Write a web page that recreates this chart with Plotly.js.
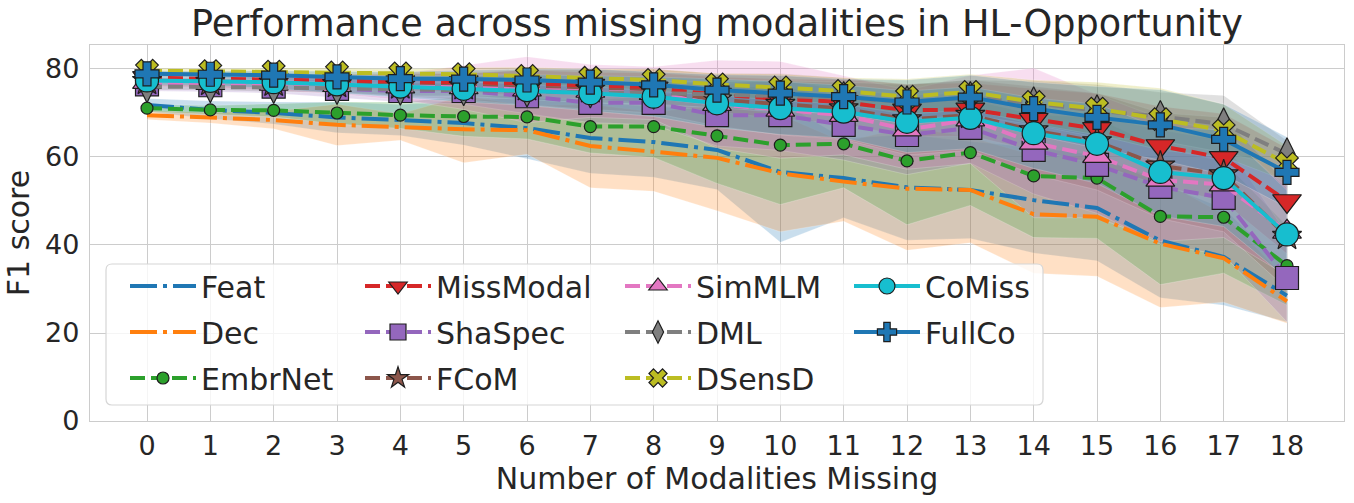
<!DOCTYPE html>
<html><head><meta charset="utf-8">
<script src="https://cdn.plot.ly/plotly-3.0.1.min.js"></script>
<style>html,body{margin:0;padding:0;background:#fff}#chart{width:1354px;height:503px}</style>
</head><body><div id="chart"></div>
<script>
// ---- data ----
const missing = [0,1,2,3,4,5,6,7,8,9,10,11,12,13,14,15,16,17,18];
const xTickLabels = ["0","1","2","3","4","5","6","7","8","9","10","11","12","13","14","15","16","17","18"];
const yTickVals = [0,20,40,60,80];

const featMean     = [71.8,70.7,70.0,69.0,68.4,67.7,66.6,64.3,63.4,61.6,56.6,55.2,53.1,52.5,50.2,48.4,41.0,37.3,28.5];
const featStd      = [1.5,2.0,2.5,3.5,3.5,5.0,7.0,8.0,8.0,9.0,16.0,9.0,12.0,11.0,12.0,12.0,13.0,11.0,6.0];
const decMean      = [69.5,68.9,68.4,67.3,66.8,66.3,66.1,62.5,61.2,59.8,56.3,54.4,52.8,52.5,47.0,46.4,40.3,37.0,27.2];
const decStd       = [1.0,1.2,2.0,4.7,3.0,7.6,5.5,9.5,9.0,12.0,13.3,9.0,14.0,12.0,13.4,13.5,14.5,10.0,5.0];
const embrMean     = [71.1,70.7,70.6,70.0,69.5,69.2,69.1,66.9,66.9,64.8,62.7,63.0,59.1,61.0,55.7,55.2,46.5,46.3,35.3];
const embrStd      = [0.8,1.0,1.5,2.5,3.0,4.5,5.0,6.0,7.0,10.8,13.5,10.0,14.5,12.0,14.0,13.7,15.5,12.7,9.0];
const missModalMean= [78.0,77.8,77.6,77.3,77.0,77.0,76.7,76.2,75.6,74.2,73.2,72.5,70.6,70.8,68.5,66.4,62.5,59.8,50.0];
const missModalStd = [1.0,1.0,1.0,1.5,2.0,2.0,3.0,3.0,3.5,4.0,4.5,5.0,6.0,6.0,7.0,8.0,9.0,10.0,12.0];
const shaSpecMean  = [76.5,76.3,76.0,75.5,75.0,75.0,73.8,72.3,72.3,69.5,69.5,67.3,65.0,66.6,61.6,58.2,53.2,50.7,32.5];
const shaSpecStd   = [1.5,1.5,1.5,2.0,2.5,3.0,4.0,4.5,5.0,7.0,8.0,8.0,9.0,8.0,10.0,11.0,13.0,13.0,10.0];
const fcomMean     = [77.2,77.0,76.8,76.5,76.2,76.0,75.8,75.3,75.0,73.0,72.0,71.0,68.5,69.5,66.0,63.5,58.0,56.0,42.0];
const fcomStd      = [1.0,1.0,1.5,2.0,2.5,3.0,4.0,4.5,5.0,6.0,7.0,7.0,8.0,8.0,10.0,11.0,12.0,13.0,12.0];
const simMean      = [77.0,76.8,76.6,76.3,76.0,75.8,75.3,75.0,74.5,72.0,70.7,69.5,66.2,68.5,63.2,60.2,54.8,53.7,43.0];
const simStd       = [1.0,1.0,1.5,2.0,3.0,5.0,7.5,6.0,6.0,10.0,11.0,9.0,9.0,10.0,17.0,14.0,14.0,12.0,10.0];
const dmlMean      = [76.0,76.0,75.8,75.6,75.4,75.3,75.0,74.8,74.5,74.2,73.8,73.5,72.5,73.5,72.3,70.5,69.2,67.5,60.7];
const dmlStd       = [0.8,0.8,1.0,1.0,1.5,1.5,2.0,2.5,2.5,3.0,3.5,3.5,4.0,4.0,5.0,6.0,5.5,6.5,3.0];
const dsensMean    = [79.6,79.5,79.4,79.2,79.0,78.8,78.4,78.0,77.5,76.5,75.8,75.0,73.7,74.8,72.5,71.0,68.6,66.0,58.5];
const dsensStd     = [0.6,0.6,0.8,1.0,1.0,1.5,2.0,2.0,2.5,2.5,3.0,3.0,4.0,4.0,5.0,6.0,7.0,6.0,4.0];
const comissMean   = [77.4,77.3,77.0,76.5,76.0,75.5,75.2,74.5,73.7,72.2,71.1,70.3,68.0,68.9,65.4,63.0,56.6,55.2,42.4];
const comissStd    = [1.0,1.0,1.5,2.0,2.5,3.0,3.5,4.0,4.5,5.5,6.0,6.0,7.0,7.0,8.0,9.0,10.0,11.0,10.0];
const fullcoMean   = [78.9,78.8,78.6,78.2,77.8,77.7,77.5,77.0,76.4,75.2,74.5,73.7,72.5,73.6,71.0,69.0,67.3,64.0,56.5];
const fullcoStd    = [0.7,0.7,1.0,1.2,1.5,2.0,2.5,3.0,3.0,3.5,4.0,4.0,5.0,5.0,6.0,7.0,8.0,8.0,8.0];

const methodNames = ["Feat","Dec","EmbrNet","MissModal","ShaSpec","FCoM","SimMLM","DML","DSensD","CoMiss","FullCo"];
const methodMeans = [featMean,decMean,embrMean,missModalMean,shaSpecMean,fcomMean,simMean,dmlMean,dsensMean,comissMean,fullcoMean];
const methodStds  = [featStd,decStd,embrStd,missModalStd,shaSpecStd,fcomStd,simStd,dmlStd,dsensStd,comissStd,fullcoStd];

// ---- styles ----
const colors = ["31,119,180","255,127,14","44,160,44","214,39,40","148,103,189","140,86,75","227,119,194","127,127,127","188,189,34","23,190,207","31,119,180"];
const dashDot = "27px,6px,4px,6px";
const dashed = "15px,6px";
const dashes = [dashDot,dashDot,dashed,dashed,dashed,dashed,dashed,dashed,dashed,"solid","solid"];
const symbols = [null,null,"circle","triangle-down","square","star","triangle-up","diamond-tall","x","circle","cross"];
const sizes = [0,0,12,25,23,22,25,23,20,23,20];
const legendOf = ["legend","legend","legend","legend2","legend2","legend2","legend3","legend3","legend3","legend4","legend4"];

// plot area in pixels
const L = 90, R = 1344, T = 45, B = 421;
const px2x = p => (p - L) / (R - L);
const px2y = p => (B - p) / (B - T);

const traces = [];
methodNames.forEach((name, i) => {
  const m = methodMeans[i], s = methodStds[i];
  const up = m.map((v, k) => v + s[k]);
  const lo = m.map((v, k) => v - s[k]);
  traces.push({
    x: missing.concat(missing.slice().reverse()),
    y: up.concat(lo.slice().reverse()),
    type: "scatter", mode: "lines", fill: "toself",
    fillcolor: "rgba(" + colors[i] + ",0.24)",
    line: {width: 0.6, color: "rgba(255,255,255,0.35)"},
    showlegend: false, hoverinfo: "skip", legend: legendOf[i], legendgroup: name
  });
});
methodNames.forEach((name, i) => {
  const t = {
    x: missing, y: methodMeans[i], name: name, type: "scatter",
    mode: symbols[i] ? "lines+markers" : "lines",
    line: {color: "rgb(" + colors[i] + ")", width: 4, dash: dashes[i]},
    legend: legendOf[i], legendgroup: name
  };
  if (symbols[i]) {
    t.marker = {symbol: symbols[i], size: sizes[i], color: "rgb(" + colors[i] + ")",
                line: {color: "#1e1e1e", width: 1.2}};
  }
  traces.push(t);
});

const font = "DejaVu Sans, sans-serif";
const txt = "#262626";
const legendFont = {family: font, size: 30, color: txt};
function legendAt(px, py) {
  return {x: px2x(px), y: px2y(py), xanchor: "left", yanchor: "top",
          bgcolor: "rgba(0,0,0,0)", borderwidth: 0, font: legendFont,
          itemwidth: 66, tracegroupgap: 4, traceorder: "grouped", itemclick: false};
}
const fx0 = px2x(106), fx1 = px2x(1043), fy0 = px2y(405), fy1 = px2y(264);
const rx = 6 / (R - L), ry = 6 / (B - T);
const framePath = `M${fx0+rx},${fy0} L${fx1-rx},${fy0} Q${fx1},${fy0} ${fx1},${fy0+ry} L${fx1},${fy1-ry} Q${fx1},${fy1} ${fx1-rx},${fy1} L${fx0+rx},${fy1} Q${fx0},${fy1} ${fx0},${fy1-ry} L${fx0},${fy0+ry} Q${fx0},${fy0} ${fx0+rx},${fy0} Z`;

const layout = {
  width: 1354, height: 503,
  margin: {l: L, r: 1354 - R, t: T, b: 503 - B, pad: 0},
  paper_bgcolor: "#ffffff", plot_bgcolor: "#ffffff",
  font: {family: font, color: txt},
  title: {text: "Performance across missing modalities in HL-Opportunity",
          font: {family: font, size: 36.6, color: txt},
          xref: "paper", x: 0.5, xanchor: "center", yref: "container", y: 0.953, yanchor: "middle"},
  xaxis: {range: [-0.9, 18.9], tickmode: "array", tickvals: missing, ticktext: xTickLabels,
          showgrid: true, gridcolor: "#cccccc", gridwidth: 1, zeroline: false,
          showline: true, mirror: true, linecolor: "#cccccc", linewidth: 1.2,
          ticks: "", ticklabelstandoff: 0, tickfont: {family: font, size: 27, color: txt},
          title: {text: "Number of Modalities Missing", font: {family: font, size: 30, color: txt}, standoff: 4},
          automargin: false},
  yaxis: {range: [0, 85.45], tickmode: "array", tickvals: yTickVals,
          showgrid: true, gridcolor: "#cccccc", gridwidth: 1, zeroline: false,
          showline: true, mirror: true, linecolor: "#cccccc", linewidth: 1.2,
          ticks: "", ticklabelstandoff: 4, tickfont: {family: font, size: 27, color: txt},
          title: {text: "F1 score", font: {family: font, size: 30, color: txt}, standoff: 6},
          automargin: false},
  shapes: [{type: "path", xref: "paper", yref: "paper", path: framePath, layer: "above",
            fillcolor: "rgba(255,255,255,0.8)", line: {color: "#d6d6d6", width: 1.2}}],
  legend: legendAt(125, 260),
  legend2: legendAt(360, 260),
  legend3: legendAt(620, 260),
  legend4: legendAt(849, 260),
  showlegend: true
};

Plotly.newPlot("chart", traces, layout, {staticPlot: true, displayModeBar: false});
</script>
</body></html>
